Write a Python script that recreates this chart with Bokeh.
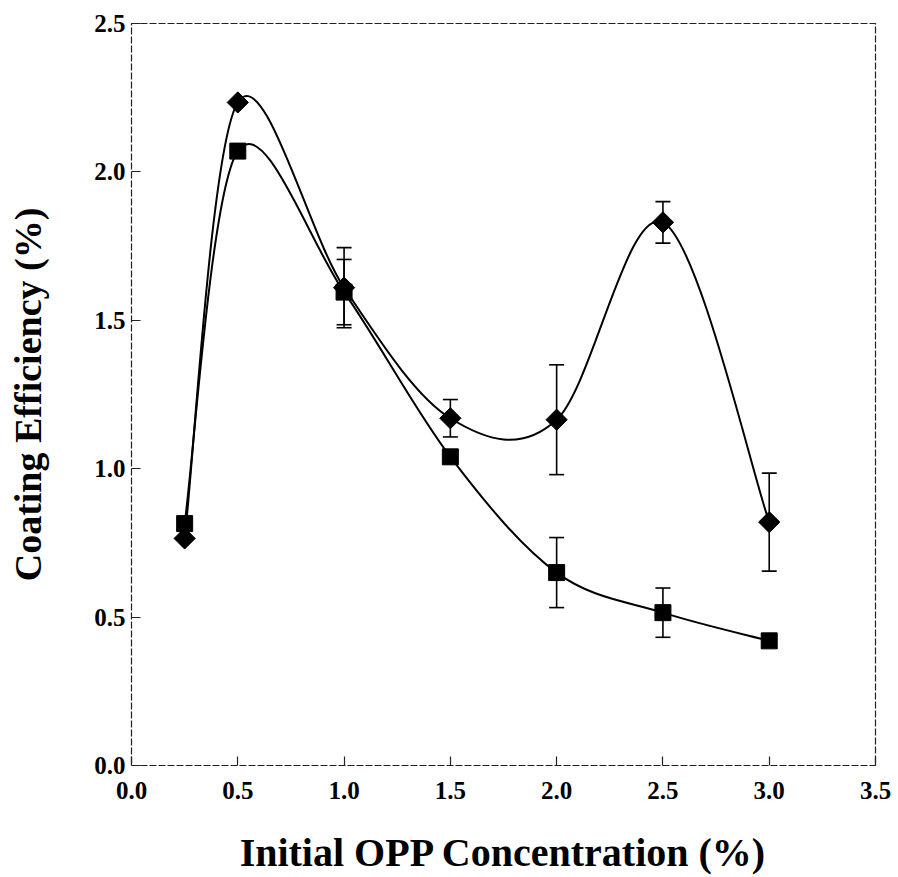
from bokeh.plotting import figure
from bokeh.models import Range1d, FixedTicker, PrintfTickFormatter, Whisker, TeeHead, ColumnDataSource
from bokeh.embed import file_html
from bokeh.resources import INLINE
import numpy as np

# ---- data ----
conc = [0.25, 0.5, 1.0, 1.5, 2.0, 2.5, 3.0]
diamond_eff = [0.765, 2.234, 1.61, 1.17, 1.165, 1.83, 0.82]
diamond_err = [0.0, 0.0, 0.135, 0.063, 0.185, 0.07, 0.165]
square_eff = [0.815, 2.07, 1.595, 1.04, 0.65, 0.515, 0.42]
square_err = [0.0, 0.0, 0.11, 0.0, 0.118, 0.083, 0.0]

x_ticks = [0.0, 0.5, 1.0, 1.5, 2.0, 2.5, 3.0, 3.5]
y_ticks = [0.0, 0.5, 1.0, 1.5, 2.0, 2.5]

FONT = "Liberation Serif"

p = figure(width=898, height=877, output_backend="svg", toolbar_location=None,
           x_range=Range1d(0, 3.5), y_range=Range1d(0, 2.5),
           min_border_left=131, min_border_right=23, min_border_top=23, min_border_bottom=112)
p.background_fill_color = "white"
p.border_fill_color = "white"
p.xgrid.visible = False
p.ygrid.visible = False
p.outline_line_color = "#222222"
p.outline_line_width = 1.2
p.outline_line_dash = "7 2"

for ax, ticks in ((p.xaxis, x_ticks), (p.yaxis, y_ticks)):
    ax.ticker = FixedTicker(ticks=ticks)
    ax.formatter = PrintfTickFormatter(format="%.1f")
    ax.axis_line_color = None
    ax.major_tick_in = 9
    ax.major_tick_out = 0
    ax.major_tick_line_color = "#222222"
    ax.major_tick_line_width = 1.2
    ax.minor_tick_line_color = None
    ax.major_label_text_font = FONT
    ax.major_label_text_font_style = "bold"
    ax.major_label_text_font_size = "25px"
    ax.major_label_text_color = "black"
    ax.axis_label_text_font = FONT
    ax.axis_label_text_font_style = "bold"
    ax.axis_label_text_color = "black"

p.xaxis.axis_label = "Initial OPP Concentration (%)"
p.xaxis.axis_label_text_font_size = "40px"
p.xaxis.major_label_standoff = 16
p.xaxis.axis_label_standoff = 28
p.yaxis.axis_label = "Coating Efficiency (%)"
p.yaxis.axis_label_text_font_size = "38px"
p.yaxis.major_label_standoff = 6
p.yaxis.axis_label_standoff = 42


def smooth_segments(xs, ys):
    """Excel-style smoothed line: cubic Bezier segments through the data points."""
    n = len(xs)
    pts = np.column_stack([xs, ys]).astype(float)
    seg = dict(x0=[], y0=[], x1=[], y1=[], cx0=[], cy0=[], cx1=[], cy1=[])
    for i in range(n - 1):
        p0 = pts[i - 1] if i > 0 else pts[i]
        p1 = pts[i]
        p2 = pts[i + 1]
        p3 = pts[i + 2] if i + 2 < n else pts[i + 1]
        c0 = p1 + (p2 - p0) / 6.0
        c1 = p2 - (p3 - p1) / 6.0
        seg["x0"].append(p1[0]); seg["y0"].append(p1[1])
        seg["x1"].append(p2[0]); seg["y1"].append(p2[1])
        seg["cx0"].append(c0[0]); seg["cy0"].append(c0[1])
        seg["cx1"].append(c1[0]); seg["cy1"].append(c1[1])
    return ColumnDataSource(seg)


for ys in (diamond_eff, square_eff):
    p.bezier(x0="x0", y0="y0", x1="x1", y1="y1", cx0="cx0", cy0="cy0", cx1="cx1", cy1="cy1",
             source=smooth_segments(conc, ys), line_color="black", line_width=2)


def add_errors(ys, errs):
    xs = [x for x, e in zip(conc, errs) if e > 0]
    up = [y + e for y, e in zip(ys, errs) if e > 0]
    lo = [y - e for y, e in zip(ys, errs) if e > 0]
    src = ColumnDataSource(dict(x=xs, upper=up, lower=lo))
    w = Whisker(base="x", upper="upper", lower="lower", source=src, dimension="height",
                line_color="black", line_width=1.6,
                upper_head=TeeHead(size=15, line_color="black", line_width=1.6),
                lower_head=TeeHead(size=15, line_color="black", line_width=1.6))
    p.add_layout(w)


add_errors(diamond_eff, diamond_err)
add_errors(square_eff, square_err)

p.scatter(conc, square_eff, marker="square", size=16, fill_color="black", line_color="black")
p.scatter(conc, diamond_eff, marker="square", size=15, angle=np.pi / 4,
          fill_color="black", line_color="black")

open("out.html", "w").write(file_html(p, INLINE))
